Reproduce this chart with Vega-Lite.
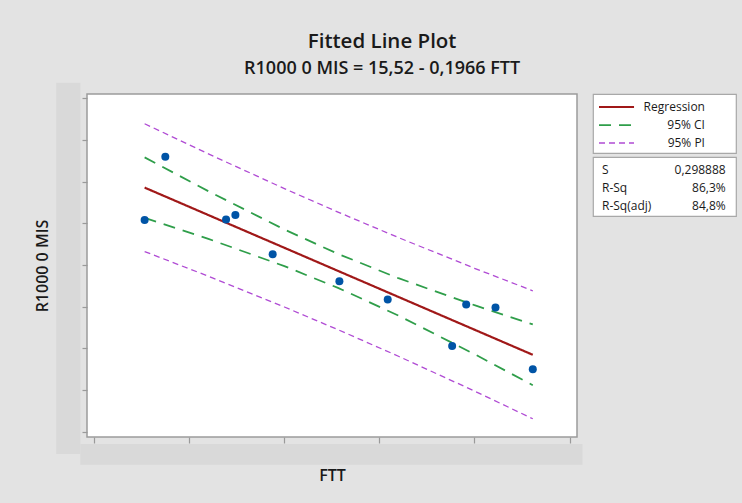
{
  "$schema": "https://vega.github.io/schema/vega-lite/v6.json",
  "background": "#e3e3e3",
  "padding": {"left": 33, "top": 32, "right": 8, "bottom": 18},
  "title": {
    "text": "Fitted Line Plot",
    "subtitle": "R1000 0 MIS = 15,52 - 0,1966 FTT",
    "anchor": "middle",
    "frame": "bounds",
    "dx": -3,
    "offset": 4,
    "font": "Open Sans",
    "fontSize": 20.5,
    "fontWeight": 600,
    "color": "#1a1a1a",
    "subtitleFont": "Open Sans",
    "subtitleFontSize": 18,
    "subtitleFontWeight": 600,
    "subtitleColor": "#1a1a1a",
    "subtitlePadding": 7
  },
  "datasets": {
    "observations": [
      {"FTT": 51.324, "R1000 0 MIS": 5.040},
      {"FTT": 51.868, "R1000 0 MIS": 5.800},
      {"FTT": 53.466, "R1000 0 MIS": 5.047},
      {"FTT": 53.711, "R1000 0 MIS": 5.100},
      {"FTT": 54.692, "R1000 0 MIS": 4.631},
      {"FTT": 56.447, "R1000 0 MIS": 4.306},
      {"FTT": 57.718, "R1000 0 MIS": 4.085},
      {"FTT": 59.413, "R1000 0 MIS": 3.529},
      {"FTT": 59.782, "R1000 0 MIS": 4.025},
      {"FTT": 60.553, "R1000 0 MIS": 3.989},
      {"FTT": 61.534, "R1000 0 MIS": 3.249}
    ],
    "curves": [
      {"FTT": 51.324, "band": "Regression", "side": "fit", "value": 5.430},
      {"FTT": 61.534, "band": "Regression", "side": "fit", "value": 3.422},
      {"FTT": 51.324, "band": "95% CI", "side": "upper", "value": 5.793},
      {"FTT": 53.0, "band": "95% CI", "side": "upper", "value": 5.387},
      {"FTT": 55.0, "band": "95% CI", "side": "upper", "value": 4.927},
      {"FTT": 56.41, "band": "95% CI", "side": "upper", "value": 4.634},
      {"FTT": 58.0, "band": "95% CI", "side": "upper", "value": 4.342},
      {"FTT": 60.0, "band": "95% CI", "side": "upper", "value": 4.018},
      {"FTT": 61.534, "band": "95% CI", "side": "upper", "value": 3.787},
      {"FTT": 51.324, "band": "95% CI", "side": "lower", "value": 5.067},
      {"FTT": 53.0, "band": "95% CI", "side": "lower", "value": 4.814},
      {"FTT": 55.0, "band": "95% CI", "side": "lower", "value": 4.487},
      {"FTT": 56.41, "band": "95% CI", "side": "lower", "value": 4.226},
      {"FTT": 58.0, "band": "95% CI", "side": "lower", "value": 3.893},
      {"FTT": 60.0, "band": "95% CI", "side": "lower", "value": 3.430},
      {"FTT": 61.534, "band": "95% CI", "side": "lower", "value": 3.057},
      {"FTT": 51.324, "band": "95% PI", "side": "upper", "value": 6.197},
      {"FTT": 53.0, "band": "95% PI", "side": "upper", "value": 5.835},
      {"FTT": 55.0, "band": "95% PI", "side": "upper", "value": 5.418},
      {"FTT": 56.41, "band": "95% PI", "side": "upper", "value": 5.136},
      {"FTT": 58.0, "band": "95% PI", "side": "upper", "value": 4.830},
      {"FTT": 60.0, "band": "95% PI", "side": "upper", "value": 4.461},
      {"FTT": 61.534, "band": "95% PI", "side": "upper", "value": 4.191},
      {"FTT": 51.324, "band": "95% PI", "side": "lower", "value": 4.662},
      {"FTT": 53.0, "band": "95% PI", "side": "lower", "value": 4.366},
      {"FTT": 55.0, "band": "95% PI", "side": "lower", "value": 3.996},
      {"FTT": 56.41, "band": "95% PI", "side": "lower", "value": 3.724},
      {"FTT": 58.0, "band": "95% PI", "side": "lower", "value": 3.405},
      {"FTT": 60.0, "band": "95% PI", "side": "lower", "value": 2.987},
      {"FTT": 61.534, "band": "95% PI", "side": "lower", "value": 2.654}
    ],
    "legendItems": [
      {"band": "Regression"},
      {"band": "95% CI"},
      {"band": "95% PI"}
    ],
    "summary": [
      {"stat": "S", "value": "0,298888"},
      {"stat": "R-Sq", "value": "86,3%"},
      {"stat": "R-Sq(adj)", "value": "84,8%"}
    ]
  },
  "bounds": "flush",
  "spacing": 16,
  "hconcat": [
    {
      "width": 490,
      "height": 343,
      "view": {"fill": "white", "stroke": "#9c9c9c", "strokeWidth": 1.5},
      "layer": [
        {
          "description": "masked tick-label strip beside the y axis",
          "data": {"values": [{}]},
          "mark": {"type": "rect", "color": "#d9d9d9"},
          "encoding": {
            "x": {"datum": 49.0, "type": "quantitative"},
            "x2": {"datum": 49.632},
            "y": {"datum": 6.69, "type": "quantitative"},
            "y2": {"datum": 2.23}
          }
        },
        {
          "description": "masked tick-label strip under the x axis",
          "data": {"values": [{}]},
          "mark": {"type": "rect", "color": "#d9d9d9"},
          "encoding": {
            "x": {"datum": 49.632, "type": "quantitative"},
            "x2": {"datum": 62.842},
            "y": {"datum": 2.3505, "type": "quantitative"},
            "y2": {"datum": 2.1017}
          }
        },
        {
          "data": {"name": "curves"},
          "mark": {"type": "line", "interpolate": "linear"},
          "encoding": {
            "x": {
              "field": "FTT",
              "type": "quantitative",
              "scale": {"domain": [49.808, 62.697], "nice": false, "zero": false},
              "axis": {
                "title": "FTT",
                "labels": false,
                "grid": false,
                "domain": false,
                "values": [50, 52.5, 55, 57.5, 60, 62.5],
                "tickSize": 6,
                "tickColor": "#9a9a9a",
                "tickWidth": 1.2,
                "titleFont": "Open Sans",
                "titleFontSize": 16,
                "titleFontWeight": 600,
                "titleColor": "#1a1a1a",
                "titlePadding": 24
              }
            },
            "y": {
              "field": "value",
              "type": "quantitative",
              "scale": {"domain": [2.435, 6.554], "nice": false, "zero": false},
              "axis": {
                "title": "R1000 0 MIS",
                "labels": false,
                "grid": false,
                "domain": false,
                "values": [2.5, 3, 3.5, 4, 4.5, 5, 5.5, 6, 6.5],
                "tickSize": 5,
                "tickColor": "#9a9a9a",
                "tickWidth": 1.2,
                "titleFont": "Open Sans",
                "titleFontSize": 16,
                "titleFontWeight": 600,
                "titleColor": "#1a1a1a",
                "titlePadding": 31
              }
            },
            "detail": {"field": "side"},
            "color": {
              "field": "band",
              "type": "nominal",
              "scale": {"domain": ["Regression", "95% CI", "95% PI"], "range": ["#a01818", "#2f9e4a", "#b04bd4"]},
              "legend": null
            },
            "strokeDash": {
              "field": "band",
              "type": "nominal",
              "scale": {"domain": ["Regression", "95% CI", "95% PI"], "range": [[1, 0], [12, 8], [6, 4]]},
              "legend": null
            },
            "strokeWidth": {
              "field": "band",
              "type": "nominal",
              "scale": {"domain": ["Regression", "95% CI", "95% PI"], "range": [2.2, 1.3, 1.3]},
              "legend": null
            }
          }
        },
        {
          "data": {"name": "observations"},
          "mark": {"type": "point", "filled": true, "size": 64, "color": "#0054a6", "opacity": 1},
          "encoding": {
            "x": {"field": "FTT", "type": "quantitative"},
            "y": {"field": "R1000 0 MIS", "type": "quantitative"}
          }
        }
      ]
    },
    {
      "bounds": "flush",
      "spacing": 4,
      "vconcat": [
        {
          "width": 143,
          "height": 59,
          "view": {"fill": "white", "stroke": "#a8a8a8", "strokeWidth": 1.2},
          "data": {"name": "legendItems"},
          "layer": [
            {
              "mark": {"type": "rule", "yOffset": 1.5},
              "encoding": {
                "x": {"datum": 4.2, "type": "quantitative", "scale": {"domain": [0, 100], "nice": false}, "axis": null},
                "x2": {"datum": 28.7},
                "y": {"field": "band", "type": "nominal", "sort": null, "scale": {"type": "point", "padding": 0.64}, "axis": null},
                "color": {
                  "field": "band",
                  "type": "nominal",
                  "scale": {"domain": ["Regression", "95% CI", "95% PI"], "range": ["#a01818", "#2f9e4a", "#b04bd4"]},
                  "legend": null
                },
                "strokeDash": {
                  "field": "band",
                  "type": "nominal",
                  "scale": {"domain": ["Regression", "95% CI", "95% PI"], "range": [[1, 0], [12, 8], [6, 4]]},
                  "legend": null
                },
                "strokeWidth": {
                  "field": "band",
                  "type": "nominal",
                  "scale": {"domain": ["Regression", "95% CI", "95% PI"], "range": [2.6, 1.3, 1.3]},
                  "legend": null
                }
              }
            },
            {
              "mark": {"type": "text", "align": "right", "baseline": "middle", "yOffset": 1.5, "font": "Open Sans", "fontSize": 12, "fontWeight": 500, "color": "#1a1a1a"},
              "encoding": {
                "x": {"datum": 78.3, "type": "quantitative"},
                "y": {"field": "band", "type": "nominal", "sort": null},
                "text": {"field": "band"}
              }
            }
          ]
        },
        {
          "width": 143,
          "height": 59,
          "view": {"fill": "white", "stroke": "#a8a8a8", "strokeWidth": 1.2},
          "data": {"name": "summary"},
          "encoding": {
            "y": {"field": "stat", "type": "nominal", "sort": null, "scale": {"type": "point", "padding": 0.64}, "axis": null}
          },
          "layer": [
            {
              "mark": {"type": "text", "align": "left", "baseline": "middle", "yOffset": 1.5, "font": "Open Sans", "fontSize": 12, "fontWeight": 500, "color": "#1a1a1a"},
              "encoding": {
                "x": {"datum": 6.3, "type": "quantitative", "scale": {"domain": [0, 100], "nice": false}, "axis": null},
                "text": {"field": "stat"}
              }
            },
            {
              "mark": {"type": "text", "align": "right", "baseline": "middle", "yOffset": 1.5, "font": "Open Sans", "fontSize": 12, "fontWeight": 500, "color": "#1a1a1a"},
              "encoding": {
                "x": {"datum": 92.8, "type": "quantitative"},
                "text": {"field": "value"}
              }
            }
          ]
        }
      ]
    }
  ]
}
